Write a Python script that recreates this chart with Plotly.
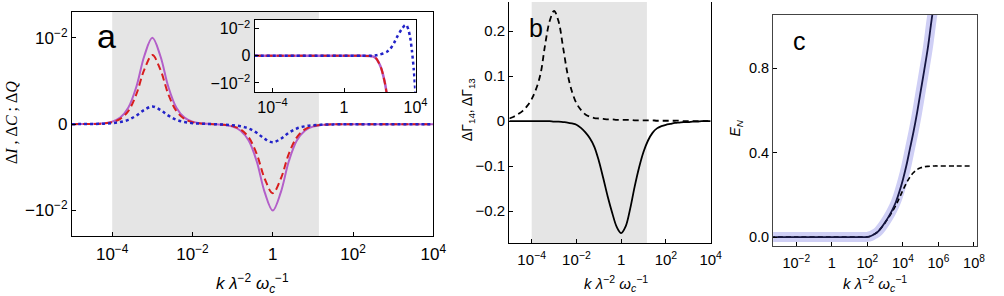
import plotly.graph_objects as go

# ---------------- data ----------------
# log10 of k*lambda^-2*omega_c^-1 grid for panels a and b
LOGK_A = [-5.0, -4.8, -4.6, -4.4, -4.2, -4.0, -3.8, -3.6, -3.4, -3.2,
          -3.0, -2.8, -2.6, -2.4, -2.2, -2.0, -1.8, -1.6, -1.4, -1.2,
          -1.0, -0.8, -0.6, -0.4, -0.2, 0.0, 0.2, 0.4, 0.6, 0.8,
          1.0, 1.2, 1.4, 1.6, 1.8, 2.0, 2.2, 2.4, 2.6, 2.8,
          3.0, 3.2, 3.4, 3.6, 3.8, 4.0]

# panel a values in units of 1e-2
DELTA_I = [0.0, 0.001, 0.002, 0.004, 0.011, 0.029, 0.076, 0.19, 0.43, 0.79,
           1.00, 0.79, 0.43, 0.19, 0.076, 0.029, 0.011, 0.004, -0.002, -0.010,
           -0.029, -0.076, -0.19, -0.43, -0.79, -1.00, -0.79, -0.43, -0.19, -0.076,
           -0.029, -0.011, -0.004, -0.002, -0.001, 0.0, 0.0, 0.0, 0.0, 0.0,
           0.0, 0.0, 0.0, 0.0, 0.0, 0.0]
DELTA_C = [0.0, 0.001, 0.002, 0.003, 0.009, 0.023, 0.061, 0.152, 0.344, 0.632,
           0.80, 0.632, 0.344, 0.152, 0.061, 0.023, 0.009, 0.003, -0.002, -0.008,
           -0.023, -0.061, -0.152, -0.344, -0.632, -0.80, -0.632, -0.344, -0.152, -0.061,
           -0.023, -0.009, -0.003, -0.002, -0.001, 0.0, 0.0, 0.0, 0.0, 0.0,
           0.0, 0.0, 0.0, 0.0, 0.0, 0.0]
DELTA_Q = [0.0, 0.001, 0.002, 0.003, 0.006, 0.012, 0.025, 0.05, 0.099, 0.165,
           0.205, 0.165, 0.099, 0.05, 0.025, 0.012, 0.006, 0.002, -0.001, -0.005,
           -0.012, -0.025, -0.05, -0.10, -0.17, -0.21, -0.17, -0.10, -0.05, -0.025,
           -0.012, -0.006, -0.003, -0.002, -0.001, 0.0, 0.0, 0.0, 0.0, 0.0,
           0.0, 0.0, 0.0, 0.0, 0.0, 0.0]

# inset (units of 1e-2)
INSET_LOGK_IC = [-5.0, -2.0, 0.0, 1.0, 1.4, 1.6, 1.8, 1.9, 2.0, 2.1, 2.2, 2.3, 2.4, 2.5]
INSET_DI = [0.0, 0.0, 0.0, 0.0, -0.005, -0.02, -0.1, -0.2, -0.33, -0.5, -0.75, -1.05, -1.45, -1.9]
INSET_DC = [0.0, 0.0, 0.0, 0.0, -0.005, -0.02, -0.1, -0.2, -0.33, -0.5, -0.75, -1.05, -1.45, -1.9]
INSET_LOGK_Q = [-5.0, -2.0, 0.0, 1.0, 1.4, 1.6, 1.8, 2.0, 2.2, 2.4, 2.6, 2.8, 3.0, 3.2,
                3.4, 3.5, 3.6, 3.7, 3.8, 3.9, 4.0]
INSET_DQ = [0.0, 0.0, 0.0, 0.0, 0.0, 0.005, 0.02, 0.05, 0.09, 0.15, 0.27, 0.48, 0.74, 0.96,
            1.13, 1.13, 0.97, 0.68, 0.18, -0.5, -1.4]

# panel b
DGAMMA_14 = [0.0, 0.0, 0.0, 0.0, 0.0, 0.0, 0.0, 0.0, 0.0, 0.0,
             -0.001, -0.001, -0.002, -0.003, -0.005, -0.008, -0.015, -0.025, -0.038, -0.057,
             -0.088, -0.127, -0.168, -0.204, -0.235, -0.249, -0.234, -0.195, -0.146, -0.103,
             -0.068, -0.043, -0.026, -0.016, -0.011, -0.008, -0.006, -0.004, -0.003, -0.002,
             -0.002, -0.001, -0.001, 0.0, 0.0, 0.0]
DGAMMA_13 = [0.006, 0.010, 0.016, 0.023, 0.034, 0.049, 0.072, 0.106, 0.170, 0.222,
             0.245, 0.222, 0.165, 0.106, 0.066, 0.040, 0.025, 0.015, 0.010, 0.007,
             0.006, 0.005, 0.004, 0.004, 0.003, 0.003, 0.003, 0.003, 0.002, 0.002,
             0.002, 0.002, 0.002, 0.001, 0.001, 0.001, 0.001, 0.001, 0.001, 0.0,
             0.0, 0.0, 0.0, 0.0, 0.0, 0.0]

# panel c
C_LOGK = [-3.5, -2.0, 0.0, 1.5, 2.0, 2.2, 2.4, 2.6, 2.8, 3.0, 3.2, 3.4, 3.6, 3.8,
          4.0, 4.2, 4.4, 4.6, 4.8, 5.0, 5.2, 5.4, 5.6, 5.8, 6.0]
EN_FULL = [0.0, 0.0, 0.0, 0.0, 0.001, 0.005, 0.014, 0.026, 0.046, 0.07, 0.097, 0.128, 0.165, 0.214,
           0.272, 0.34, 0.42, 0.50, 0.59, 0.69, 0.79, 0.894, 1.02, 1.14, 1.26]
C_LOGK_DASH = [-3.5, -2.0, 0.0, 1.5, 2.0, 2.2, 2.4, 2.6, 2.8, 3.0, 3.2, 3.4, 3.6, 3.8,
               4.0, 4.2, 4.4, 4.6, 4.8, 5.0, 5.2, 5.4, 5.6, 5.8, 6.0, 7.0, 7.9]
EN_DASH = [0.0, 0.0, 0.0, 0.0, 0.001, 0.005, 0.014, 0.026, 0.045, 0.068, 0.093, 0.12, 0.15, 0.185,
           0.222, 0.256, 0.285, 0.306, 0.32, 0.328, 0.333, 0.335, 0.336, 0.337, 0.337, 0.337, 0.337]

SHADE_LOGK = [-4.0, 1.15]

TICK_A = [-4, -2, 0, 2, 4]
TICK_A_TEXT = ["10<sup>−4</sup>", "10<sup>−2</sup>", "1", "10<sup>2</sup>", "10<sup>4</sup>"]
TICK_INSET = [-4, 0, 4]
TICK_INSET_TEXT = ["10<sup>−4</sup>", "1", "10<sup>4</sup>"]
TICK_C = [-2, 0, 2, 4, 6, 8]
TICK_C_TEXT = ["10<sup>−2</sup>", "1", "10<sup>2</sup>", "10<sup>4</sup>", "10<sup>6</sup>", "10<sup>8</sup>"]
YT_A = [-1, 0, 1]
YT_A_TEXT = ["−10<sup>−2</sup>", "0", "10<sup>−2</sup>"]
YT_B = [-0.2, -0.1, 0, 0.1, 0.2]
YT_B_TEXT = ["−0.2", "−0.1", "0", "0.1", "0.2"]
YT_C = [0.0, 0.4, 0.8]
YT_C_TEXT = ["0.0", "0.4", "0.8"]


def k(vals):
    return [10 ** v for v in vals]


FONT = "Liberation Sans, Arial, sans-serif"
PURPLE = "#b35fc9"
RED = "#d81e1e"
BLUE = "#2323c8"
SHADE = "#e5e5e5"

fig = go.Figure()

# panel a
fig.add_trace(go.Scatter(x=k(LOGK_A), y=DELTA_I, mode="lines", line=dict(color=PURPLE, width=2, shape="spline"),
                         xaxis="x", yaxis="y"))
fig.add_trace(go.Scatter(x=k(LOGK_A), y=DELTA_C, mode="lines",
                         line=dict(color=RED, width=2, dash="7px,4px", shape="spline"), xaxis="x", yaxis="y"))
fig.add_trace(go.Scatter(x=k(LOGK_A), y=DELTA_Q, mode="lines",
                         line=dict(color=BLUE, width=2.5, dash="3px,3px", shape="spline"), xaxis="x", yaxis="y"))

# inset
fig.add_trace(go.Scatter(x=k(INSET_LOGK_IC), y=INSET_DI, mode="lines",
                         line=dict(color=PURPLE, width=2.5, shape="spline", smoothing=0.6), xaxis="x4", yaxis="y4"))
fig.add_trace(go.Scatter(x=k(INSET_LOGK_IC), y=INSET_DC, mode="lines",
                         line=dict(color=RED, width=2, dash="7px,4px", shape="spline", smoothing=0.6),
                         xaxis="x4", yaxis="y4"))
fig.add_trace(go.Scatter(x=k(INSET_LOGK_Q), y=INSET_DQ, mode="lines",
                         line=dict(color=BLUE, width=2.5, dash="3px,3px", shape="spline", smoothing=0.6),
                         xaxis="x4", yaxis="y4"))

# panel b
fig.add_trace(go.Scatter(x=k(LOGK_A), y=DGAMMA_13, mode="lines",
                         line=dict(color="black", width=1.8, dash="6px,4px", shape="spline"), xaxis="x2", yaxis="y2"))
fig.add_trace(go.Scatter(x=k(LOGK_A), y=DGAMMA_14, mode="lines",
                         line=dict(color="black", width=1.8, shape="spline"), xaxis="x2", yaxis="y2"))

# panel c
fig.add_trace(go.Scatter(x=k(C_LOGK), y=EN_FULL, mode="lines",
                         line=dict(color="#cfcff5", width=10, shape="spline"), xaxis="x3", yaxis="y3"))
fig.add_trace(go.Scatter(x=k(C_LOGK_DASH), y=EN_DASH, mode="lines",
                         line=dict(color="black", width=1.6, dash="5px,3px", shape="spline"), xaxis="x3", yaxis="y3"))
fig.add_trace(go.Scatter(x=k(C_LOGK), y=EN_FULL, mode="lines",
                         line=dict(color="#151540", width=1.8, shape="spline"), xaxis="x3", yaxis="y3"))

W, H = 1004, 296


def px_x(a, b):
    return [a / W, b / W]


def px_y(top, bottom):
    return [1 - bottom / H, 1 - top / H]


def tf(size):
    return dict(family=FONT, size=size, color="black")


axis_common = dict(showgrid=False, zeroline=False, showline=True, linecolor="black", linewidth=1.3,
                   ticks="inside", ticklen=4, tickwidth=1, tickcolor="black", tickfont=tf(17))

fig.update_layout(
    width=W, height=H, margin=dict(l=0, r=0, t=0, b=0),
    paper_bgcolor="white", plot_bgcolor="white", showlegend=False,
    font=dict(family=FONT, color="black"),
    xaxis=dict(axis_common, domain=px_x(73, 439), type="log", range=[-5, 4], mirror=True,
               tickvals=k(TICK_A), ticktext=TICK_A_TEXT, anchor="y", ticklabelstandoff=2),
    yaxis=dict(axis_common, domain=px_y(10, 236), range=[-1.30, 1.30], mirror=True,
               tickvals=YT_A, ticktext=YT_A_TEXT, anchor="x"),
    xaxis2=dict(axis_common, domain=px_x(516, 720), type="log", range=[-5, 4], mirror=False,
                tickvals=k(TICK_A), ticktext=TICK_A_TEXT, anchor="y2", tickfont=tf(15), ticklabelstandoff=3),
    yaxis2=dict(axis_common, domain=px_y(0, 242.7), range=[-0.271, 0.265], mirror=True,
                tickvals=YT_B, ticktext=YT_B_TEXT, anchor="x2", tickfont=tf(15)),
    xaxis3=dict(axis_common, domain=px_x(783.3, 990), type="log", range=[-3.3, 8.18], mirror=True,
                tickvals=k(TICK_C), ticktext=TICK_C_TEXT, anchor="y3", linecolor="#444",
                tickfont=tf(14.5), ticklabelstandoff=3),
    yaxis3=dict(axis_common, domain=px_y(12.7, 246), range=[-0.044, 1.054], mirror=True,
                tickvals=YT_C, ticktext=YT_C_TEXT, anchor="x3", linecolor="#444", tickfont=tf(14.5)),
    xaxis4=dict(axis_common, domain=px_x(258, 421), type="log", range=[-5, 4], mirror=True,
                tickvals=k(TICK_INSET), ticktext=TICK_INSET_TEXT, anchor="y4", tickfont=tf(16)),
    yaxis4=dict(axis_common, domain=px_y(18, 91), range=[-1.35, 1.33], mirror=True,
                tickvals=YT_A, ticktext=YT_A_TEXT, anchor="x4", tickfont=tf(16)),
)

for xr in ["x", "x2"]:
    fig.add_shape(type="rect", xref=xr, yref=("y" if xr == "x" else "y2") + " domain",
                  x0=10 ** SHADE_LOGK[0], x1=10 ** SHADE_LOGK[1], y0=0, y1=1,
                  fillcolor=SHADE, line=dict(width=0), layer="below")

XT = "<i>k</i> <i>λ</i><sup>−2</sup> <i>ω<sub>c</sub></i><sup>−1</sup>"


def ann(text, x, y, size, angle=0, family=FONT):
    fig.add_annotation(text=text, x=x / W, y=1 - y / H, xref="paper", yref="paper",
                       showarrow=False, xanchor="center", yanchor="middle", textangle=angle,
                       font=dict(family=family, size=size, color="black"))


ann("a", 107.5, 34.5, 34)
ann("b", 543, 26, 25)
ann("c", 809.5, 39.5, 25)
ann(XT, 256, 283, 17)
ann(XT, 624, 283, 15)
ann(XT, 886, 283, 15)
ann("Δ<i>I</i> , Δ<i>C</i> ; Δ<i>Q</i>", 11, 121, 16, -90, "Liberation Serif, serif")
ann("ΔΓ<sub>14</sub>, ΔΓ<sub>13</sub>", 474, 108, 14, -90)
ann("<i>E</i><sub><i>N</i></sub>", 746, 127, 14, -90)

fig.write_html("out.html")
